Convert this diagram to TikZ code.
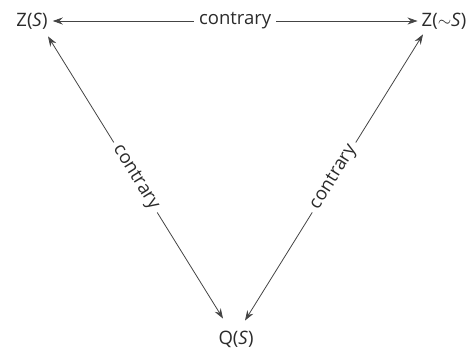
\documentclass[tikz,border=0pt]{standalone}
\usepackage{fontspec}
\setmainfont{Open Sans}
\usetikzlibrary{arrows.meta,calc}
\definecolor{txt}{HTML}{2B2B2B}
\definecolor{ln}{HTML}{444444}
\tikzset{
  term/.style={text=txt,font=\fontsize{18.5}{22}\selectfont,inner sep=0pt},
  conn/.style={draw=ln,line width=0.8pt,{Stealth[length=10pt,width=7pt]}-{Stealth[length=10pt,width=7pt]}},
  lbl/.style={text=txt,font=\fontsize{18.5}{22}\selectfont,fill=white,inner sep=5pt,midway}
}
\begin{document}
\begin{tikzpicture}[x=1pt,y=-1pt]
\useasboundingbox (0,0) rectangle (473,354);
\node[term] (zs) at (32,21) {Z(\textit{S})};
\node[term] (zns) at (444,21) {Z($\sim$\textit{S})};
\node[term] (qs) at (236,339) {Q(\textit{S})};
\draw[conn] ($(zs.east)+(5,0)$) -- node[lbl] {contrary} ($(zns.west)+(-4,0)$);
\draw[conn] ($(zs.south)+(16,7)$) -- node[lbl,sloped] {contrary} ($(qs.north)+(-13,-12)$);
\draw[conn] ($(zns.south)+(-21,5)$) -- node[lbl,sloped] {contrary} ($(qs.north)+(9,-10)$);
\end{tikzpicture}
\end{document}
